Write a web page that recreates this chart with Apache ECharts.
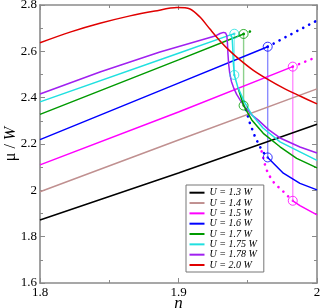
<!DOCTYPE html>
<html><head><meta charset="utf-8">
<script src="https://cdn.jsdelivr.net/npm/echarts@6/dist/echarts.min.js"></script>
<style>html,body{margin:0;padding:0;background:#fff}#c{width:322px;height:308px}</style>
</head><body><div id="c"></div>
<script>
// ---------- data ----------
const LABELS = ['U = 1.3 W','U = 1.4 W','U = 1.5 W','U = 1.6 W','U = 1.7 W','U = 1.75 W','U = 1.78 W','U = 2.0 W'];
const COLORS = ['#000000','#c09090','#ff00ff','#0000ff','#009a00','#20e0e0','#a020f0','#e00000'];
const X_TICKS = [1.8, 1.9, 2.0];
const Y_TICKS = [1.6, 1.8, 2.0, 2.2, 2.4, 2.6, 2.8];

// main solid curves [n, mu]
const U13 = [[1.8,1.872],[1.9,2.075],[2.0,2.285]];
const U14 = [[1.8,1.994],[1.9,2.217],[2.0,2.438]];
const U15 = [[1.8,2.110],[1.9,2.338],[1.9825,2.534]];
const U16 = [[1.8,2.219],[1.9,2.463],[1.9644,2.620]];
const U17 = [[1.8,2.328],[1.9,2.563],[1.947,2.675]];
const U175 = [[1.8,2.382],[1.9,2.592],[1.9380,2.672],[1.9403,2.676]];
const U178 = [[1.8,2.416],[1.8433,2.511],[1.8866,2.597],[1.9264,2.666],[1.9300,2.677],[1.9325,2.682],[1.9340,2.679],[1.9349,2.668],[1.9353,2.640],[1.9357,2.590],[1.9362,2.545],[1.9370,2.505],[1.9382,2.470],[1.9400,2.440],[1.9420,2.414],[1.9450,2.385],[1.9480,2.360],[1.9530,2.325],[1.9574,2.304],[1.9650,2.262],[1.9733,2.226],[1.9877,2.187],[2.0,2.161]];
const U20 = [[1.8,2.637],[1.8217,2.683],[1.8433,2.721],[1.8650,2.753],[1.8830,2.774],[1.8989,2.789],[1.9083,2.783],[1.9155,2.748],[1.9227,2.696],[1.9300,2.645],[1.9372,2.601],[1.9444,2.563],[1.9538,2.519],[1.9639,2.481],[1.9755,2.442],[1.9877,2.407],[2.0,2.373]];

// lower (insulating) solid branches
const LOW15 = [[1.9825,1.955],[1.9877,1.934],[2.0,1.894]];
const LOW16 = [[1.9644,2.142],[1.9757,2.074],[1.9877,2.030],[2.0,2.002]];
const LOW17 = [[1.9430,2.442],[1.947,2.366],[1.9529,2.304],[1.9612,2.246],[1.9733,2.188],[1.9853,2.138],[2.0,2.097]];
const LOW175 = [[1.9380,2.672],[1.9388,2.655],[1.9392,2.610],[1.9396,2.550],[1.9403,2.498],[1.9430,2.442],[1.9480,2.377],[1.9531,2.325],[1.9610,2.269],[1.9733,2.209],[1.9877,2.166],[2.0,2.129]];

// dotted (unstable) continuations
const DOT15_UP = [[1.9825,2.534],[2.0,2.576]];
const DOT16_UP = [[1.9644,2.620],[1.9993,2.731]];
const DOT17_UP = [[1.947,2.675],[1.9535,2.690]];
const DOT15_LOW = [[1.9600,2.168],[1.9625,2.109],[1.9641,2.081],[1.9673,2.045],[1.9704,2.023],[1.9745,2.002],[1.9781,1.980],[1.9825,1.955]];
const DOT16_LOW = [[1.9487,2.347],[1.9516,2.289],[1.9552,2.232],[1.9588,2.188],[1.9617,2.161],[1.9644,2.142]];

// transition points (upper, lower) joined by vertical lines
const JUMP175 = [[1.9403,2.676],[1.9403,2.498]];
const JUMP17 = [[1.947,2.675],[1.947,2.366]];
const JUMP16 = [[1.9644,2.620],[1.9644,2.142]];
const JUMP15 = [[1.9825,2.534],[1.9825,1.955]];

// ---------- chart ----------
const chart = echarts.init(document.getElementById('c'), null, {renderer:'canvas'});
const SERIF = 'Liberation Serif, Times New Roman, serif';
const AX = '#8a8a8a';

function solid(name, data, color, z, smooth){
  return {name, type:'line', data, symbol:'none', silent:true, animation:false, z:z||3,
    smooth:smooth||false, lineStyle:{color, width:1.5}, itemStyle:{color}};
}
function helper(data, color){
  return {type:'line', data, symbol:'none', silent:true, animation:false, z:3,
    lineStyle:{color, width:1.5}, itemStyle:{color}, legendHoverLink:false};
}
function dotted(data, color){
  return {type:'line', data, symbol:'none', silent:true, animation:false, z:2,
    lineStyle:{color, width:2.6, type:[0.1,6.6], cap:'round'}};
}
function jump(data, color){
  return {type:'line', data, symbol:'none', silent:true, animation:false, z:1,
    lineStyle:{color, width:1.4, opacity:0.45}};
}
function circles(data, color){
  return [
    {type:'scatter', data, symbol:'circle', symbolSize:9, silent:true, animation:false, z:5,
      itemStyle:{color:'rgba(255,255,255,0)', borderColor:color, borderWidth:1}},
    {type:'scatter', data, symbol:'circle', symbolSize:2.4, silent:true, animation:false, z:5,
      itemStyle:{color}}
  ];
}

const series = [
  jump(JUMP175, COLORS[5]), jump(JUMP17, COLORS[4]), jump(JUMP16, COLORS[3]), jump(JUMP15, COLORS[2]),
  solid(LABELS[0], U13, COLORS[0]),
  solid(LABELS[1], U14, COLORS[1]),
  solid(LABELS[2], U15, COLORS[2]),
  solid(LABELS[3], U16, COLORS[3]),
  solid(LABELS[4], U17, COLORS[4]),
  solid(LABELS[5], U175, COLORS[5]),
  solid(LABELS[6], U178, COLORS[6]),
  solid(LABELS[7], U20, COLORS[7], 4, 0.3),
  helper(LOW15, COLORS[2]), helper(LOW16, COLORS[3]), helper(LOW17, COLORS[4]), helper(LOW175, COLORS[5]),
  dotted(DOT15_UP, COLORS[2]), dotted(DOT16_UP, COLORS[3]), dotted(DOT17_UP, COLORS[4]),
  dotted(DOT15_LOW, COLORS[2]), dotted(DOT16_LOW, COLORS[3]),
  ...circles(JUMP175, COLORS[5]), ...circles(JUMP17, COLORS[4]),
  ...circles(JUMP16, COLORS[3]), ...circles(JUMP15, COLORS[2])
];

const tickCommon = {show:true, inside:true, length:5, lineStyle:{color:AX, width:1}};
const minorCommon = {show:true, splitNumber:2, length:3, lineStyle:{color:AX, width:1}};
const lineCommon = {show:true, onZero:false, lineStyle:{color:AX, width:1.6}};
const fmt = v => (Math.abs(v-2)<1e-9 ? '2' : v.toFixed(1));

chart.setOption({
  backgroundColor:'#fff',
  animation:false,
  grid:{left:40, right:5, top:5, bottom:25, containLabel:false, outerBoundsMode:'none'},
  legend:{
    data:LABELS, orient:'vertical', left:186, top:185,
    backgroundColor:'#fff', borderColor:'#777', borderWidth:1,
    padding:[2.7,7,2,3.5], itemWidth:15, itemHeight:2, itemGap:0.33, icon:'rect',
    textStyle:{fontFamily:SERIF, fontStyle:'italic', fontSize:10, color:'#000'},
    selectedMode:false
  },
  xAxis:[
    {type:'value', min:1.8, max:2.0, interval:0.1, position:'bottom',
     axisLine:lineCommon, axisTick:tickCommon, minorTick:minorCommon, splitLine:{show:false},
     axisLabel:{fontFamily:SERIF, fontSize:13, color:'#000', margin:3, formatter:fmt},
     name:'n', nameLocation:'middle', nameGap:12, nameMoveOverlap:false,
     nameTextStyle:{fontFamily:SERIF, fontStyle:'italic', fontSize:17, color:'#000'}},
    {type:'value', min:1.8, max:2.0, interval:0.1, position:'top',
     axisLine:lineCommon, axisTick:tickCommon, minorTick:minorCommon, splitLine:{show:false},
     axisLabel:{show:false}}
  ],
  yAxis:[
    {type:'value', min:1.6, max:2.8, interval:0.2, position:'left',
     axisLine:lineCommon, axisTick:tickCommon, minorTick:minorCommon, splitLine:{show:false},
     axisLabel:{fontFamily:SERIF, fontSize:13, color:'#000', margin:3, formatter:fmt},
     name:'{m|μ / }{w|W}', nameLocation:'middle', nameGap:21, nameRotate:90, nameMoveOverlap:false,
     nameTextStyle:{fontFamily:SERIF, fontSize:16, color:'#000',
       rich:{m:{fontFamily:SERIF, fontSize:16, color:'#000'}, w:{fontFamily:SERIF, fontStyle:'italic', fontSize:16, color:'#000'}}}},
    {type:'value', min:1.6, max:2.8, interval:0.2, position:'right',
     axisLine:lineCommon, axisTick:tickCommon, minorTick:minorCommon, splitLine:{show:false},
     axisLabel:{show:false}}
  ],
  series: series.map(s => Object.assign({xAxisIndex:0, yAxisIndex:0}, s))
});
</script>
</body></html>
